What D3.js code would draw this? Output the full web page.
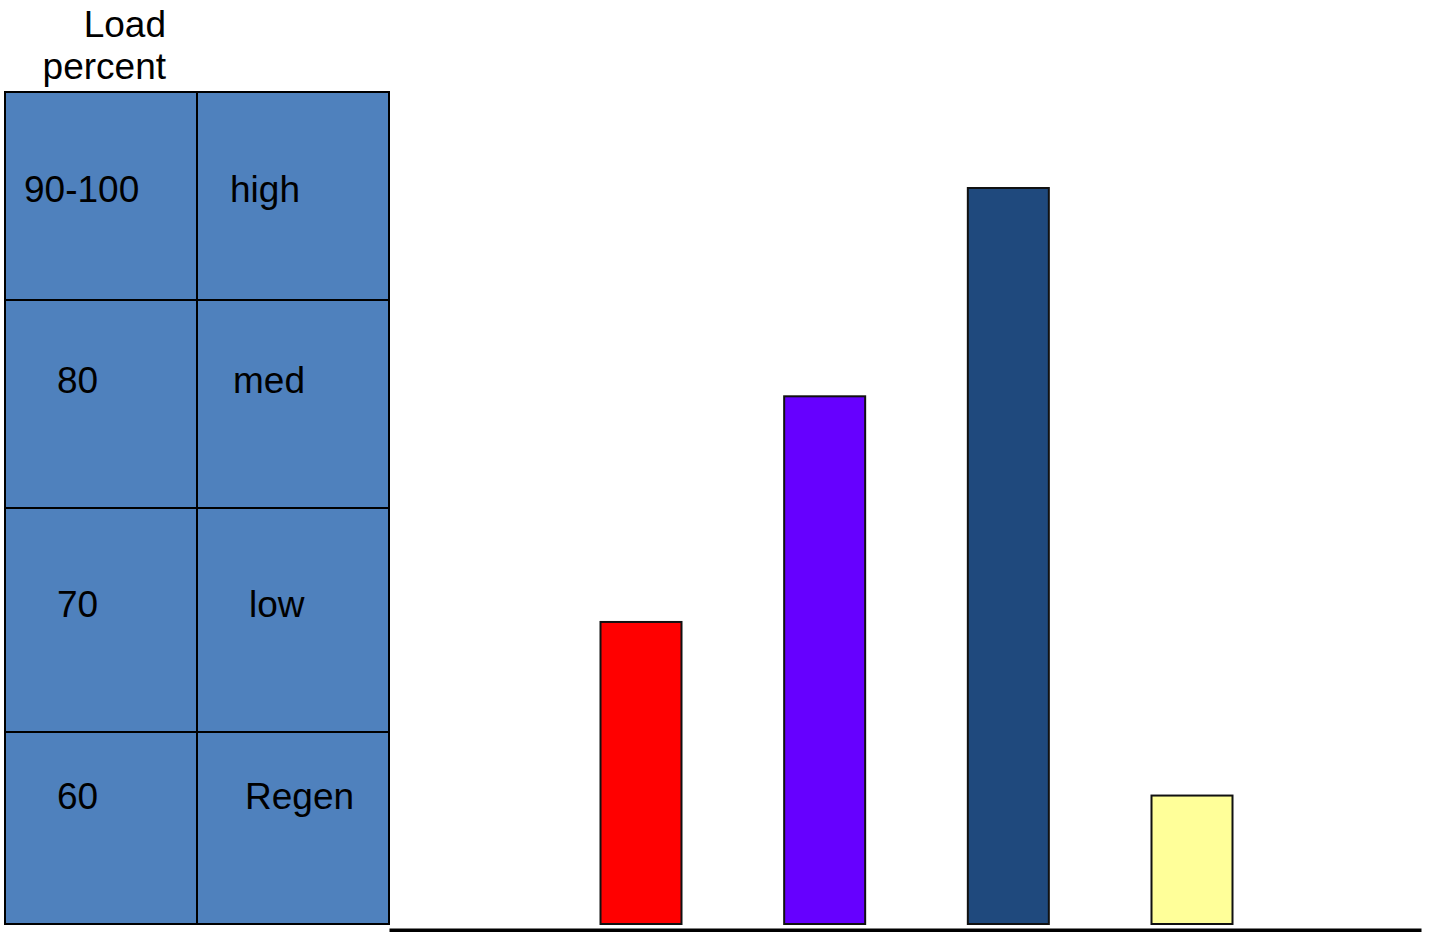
<!DOCTYPE html>
<html>
<head>
<meta charset="utf-8">
<script src="https://cdn.jsdelivr.net/npm/d3@7"></script>
<style>
  html, body { margin: 0; padding: 0; background: #fff; }
  svg { display: block; }
  text { font-family: "Liberation Sans", Arial, sans-serif; fill: #000; }
</style>
</head>
<body>
<svg id="chart" width="1429" height="932"></svg>
<script>
// ---- data ----
const titleLines = ["Load", "percent"];
const rangeLabels = ["90-100", "80", "70", "60"];
const levelLabels = ["high", "med", "low", "Regen"];
const categories = ["low", "med", "high", "Regen"];
const loadValues = [70, 83, 95, 60];
const barColors = ["#FF0000", "#6600FF", "#1F497D", "#FFFF99"];

// ---- layout ----
const W = 1429, H = 932;
const svg = d3.select("#chart");

const tableX = [5, 197, 389];
const rowEdges = [92, 300, 508, 732, 924];
const baselines = [202, 393, 617, 809];
const leftTextX = [24, 57, 57, 57];
const rightTextX = [230, 233, 249, 245];
const fs = 37;

// title
svg.append("g").selectAll("text").data(titleLines).join("text")
  .attr("x", 166)
  .attr("y", (d, i) => 37 + i * 42)
  .attr("text-anchor", "end")
  .style("font-size", fs + "px")
  .text(d => d);

// table
const table = svg.append("g");
rangeLabels.forEach((lab, i) => {
  for (let c = 0; c < 2; c++) {
    table.append("rect")
      .attr("x", tableX[c]).attr("y", rowEdges[i])
      .attr("width", tableX[c + 1] - tableX[c])
      .attr("height", rowEdges[i + 1] - rowEdges[i])
      .attr("fill", "#4F81BD")
      .attr("stroke", "#000")
      .attr("stroke-width", 2);
  }
  table.append("text")
    .attr("x", leftTextX[i]).attr("y", baselines[i])
    .style("font-size", fs + "px")
    .text(lab);
  table.append("text")
    .attr("x", rightTextX[i]).attr("y", baselines[i])
    .style("font-size", fs + "px")
    .text(levelLabels[i]);
});

// bars
const y = d3.scaleLinear().domain([52.6, 95]).range([924, 188]);
const x = d3.scalePoint().domain(categories).range([641, 1192]);
const barW = 81;

svg.append("g").selectAll("rect").data(categories).join("rect")
  .attr("x", d => x(d) - barW / 2)
  .attr("y", (d, i) => y(loadValues[i]))
  .attr("width", barW)
  .attr("height", (d, i) => y(52.6) - y(loadValues[i]))
  .attr("fill", (d, i) => barColors[i])
  .attr("stroke", "#111")
  .attr("stroke-width", 2);

// baseline axis
const axisScale = d3.scaleLinear().domain([0, 1]).range([389, 1421]);
const axisG = svg.append("g").attr("transform", "translate(0,930)")
  .call(d3.axisBottom(axisScale).tickValues([]).tickSizeOuter(0));
axisG.select(".domain").attr("stroke", "#000").attr("stroke-width", 4);
</script>
</body>
</html>
